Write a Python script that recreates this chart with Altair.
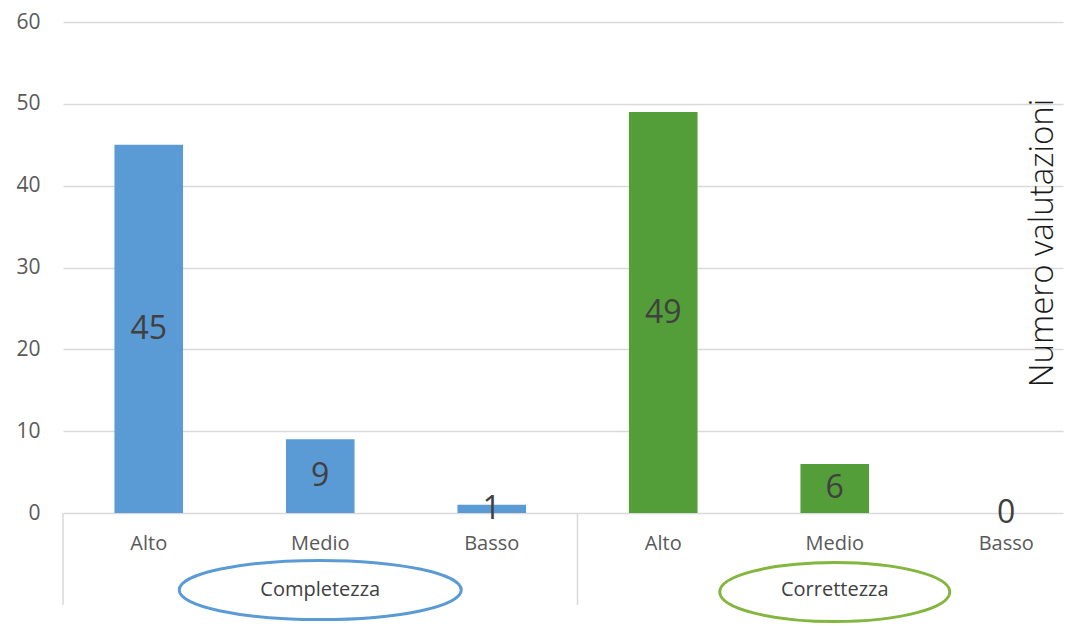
import altair as alt
import pandas as pd

categories = ["Alto", "Medio", "Basso"]
groups = ["Completezza", "Correttezza"]
values_completezza = [45, 9, 1]
values_correttezza = [49, 6, 0]
y_ticks = [0, 10, 20, 30, 40, 50, 60]
axis_title = "Numero valutazioni"

bar_colors = ["#5B9BD5", "#549E3A"]
ellipse_colors = ["#5B9BD5", "#82B63C"]
FONT = "Open Sans"

rows = []
for gi, (g, vals) in enumerate(zip(groups, [values_completezza, values_correttezza])):
    for ci, (c, v) in enumerate(zip(categories, vals)):
        pos = gi * len(categories) + ci
        rows.append({"group": g, "cat": c, "value": v, "pos": pos,
                     "lo": pos - 0.2, "hi": pos + 0.2, "mid": v / 2, "label": str(v)})
df = pd.DataFrame(rows)

grp_df = pd.DataFrame({"group": groups,
                       "gpos": [gi * len(categories) + (len(categories) - 1) / 2 for gi in range(len(groups))]})
sep_df = pd.DataFrame({"sep": [gi * len(categories) - 0.5 for gi in range(len(groups))]})

xscale = alt.Scale(domain=[-0.5, 5.331], nice=False, zero=False)
yscale = alt.Scale(domain=[0, 60], nice=False)
cscale = alt.Scale(domain=groups, range=bar_colors)

base = alt.Chart(df)

bars = base.mark_rect().encode(
    x=alt.X("lo:Q", scale=xscale, axis=None),
    x2="hi:Q",
    y=alt.Y("value:Q", scale=yscale,
            axis=alt.Axis(values=y_ticks, grid=True, gridColor="#d9d9d9", gridWidth=1.3,
                          domain=False, ticks=False, labelFontSize=21, labelColor="#595959",
                          labelPadding=23, labelFont=FONT, title=None)),
    y2=alt.datum(0),
    color=alt.Color("group:N", scale=cscale, legend=None),
)

bar_labels = base.mark_text(fontSize=32, color="#404040", font=FONT, baseline="middle").encode(
    x=alt.X("pos:Q", scale=xscale, axis=None),
    y=alt.Y("mid:Q", scale=yscale),
    text="label:N",
)

cat_labels = base.mark_text(fontSize=20, color="#595959", font=FONT, baseline="middle").encode(
    x=alt.X("pos:Q", scale=xscale, axis=None),
    y=alt.value(522),
    text="cat:N",
)

seps = alt.Chart(sep_df).mark_rule(color="#d9d9d9", strokeWidth=1.5).encode(
    x=alt.X("sep:Q", scale=xscale, axis=None),
    y=alt.value(491),
    y2=alt.value(583),
)

grp_labels = alt.Chart(grp_df).mark_text(fontSize=20, color="#404040", font=FONT, baseline="middle").encode(
    x=alt.X("gpos:Q", scale=xscale, axis=None),
    y=alt.value(568),
    text="group:N",
)

ell1 = alt.Chart(grp_df.iloc[[0]]).mark_point(
    shape="M -1 0 A 1 0.21 0 1 0 1 0 A 1 0.21 0 1 0 -1 0 Z",
    size=282 * 282, filled=False, strokeWidth=3, opacity=1, color=ellipse_colors[0],
).encode(x=alt.X("gpos:Q", scale=xscale, axis=None), y=alt.value(568))

ell2 = alt.Chart(grp_df.iloc[[1]]).mark_point(
    shape="M -1 0 A 1 0.257 0 1 0 1 0 A 1 0.257 0 1 0 -1 0 Z",
    size=230 * 230, filled=False, strokeWidth=3, opacity=1, color=ellipse_colors[1],
).encode(x=alt.X("gpos:Q", scale=xscale, axis=None), y=alt.value(570))

title_df = pd.DataFrame({"t": [axis_title]})
title = alt.Chart(title_df).mark_text(fontSize=33, color="#1a1a1a", font=FONT, fontWeight=300,
                                      angle=270, align="center", baseline="middle").encode(
    x=alt.value(980), y=alt.value(221), text="t:N")

chart = alt.layer(bars, seps, bar_labels, cat_labels, grp_labels, ell1, ell2, title).properties(
    width=1000, height=491,
    autosize=alt.AutoSizeParams(type="none"),
    padding={"left": 63, "top": 22, "right": 3, "bottom": 113},
    background="white",
).configure_view(stroke=None)

chart.save("out.html", embed_options={"renderer": "svg", "actions": False})
